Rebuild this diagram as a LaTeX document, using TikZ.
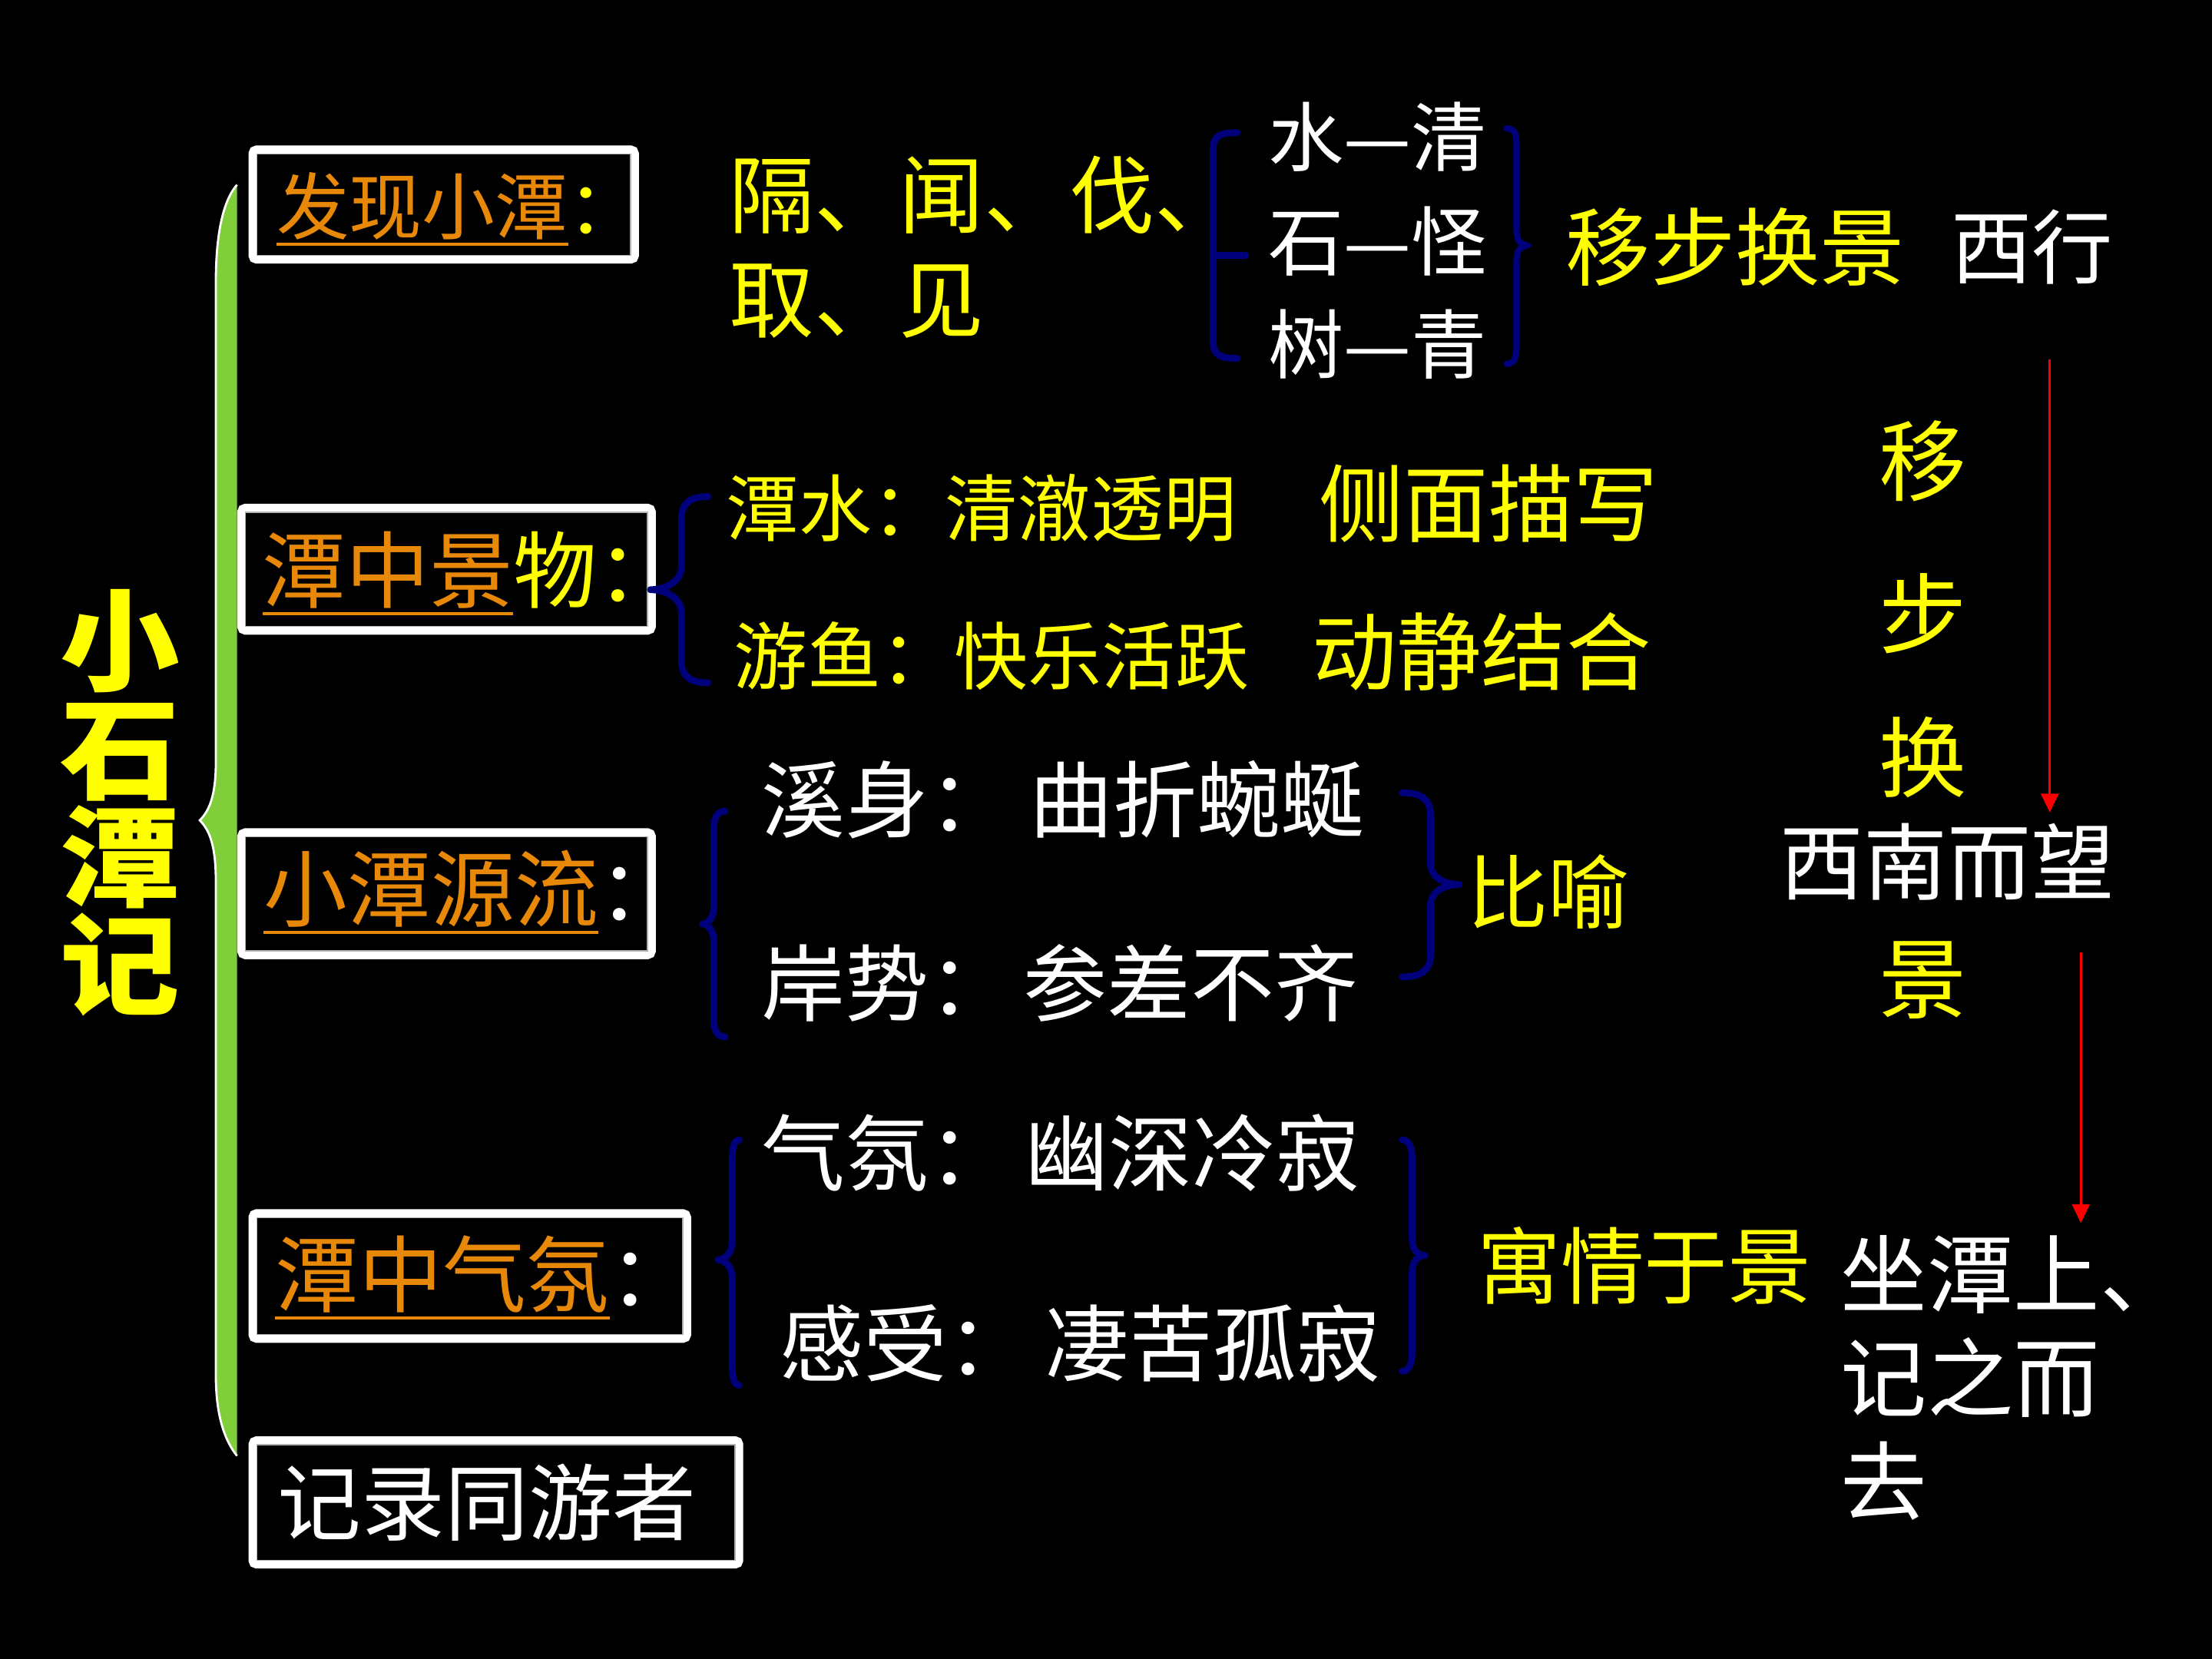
\documentclass[tikz,border=0pt]{standalone}
\usepackage{fontspec}
\usepackage{graphicx}
\setmainfont{Noto Sans CJK SC}
\usetikzlibrary{arrows.meta}
\definecolor{myyellow}{RGB}{255,255,0}
\definecolor{myorange}{RGB}{232,136,8}
\definecolor{mynavy}{RGB}{0,0,125}
\definecolor{mygreen}{RGB}{128,206,58}
\definecolor{myred}{RGB}{250,0,0}
\def\pxu{0.018367cm}
\newcommand{\fs}[1]{\fontsize{#1pt}{#1pt}\selectfont}
\tikzset{
  every node/.style={inner sep=0pt, outer sep=0pt},
  box/.style={draw=white, line width=3pt, rounded corners=1.5pt, fill=black},
  innerline/.style={draw=gray!60, line width=0.4pt},
  ytext/.style={text=myyellow},
  wtext/.style={text=white},
  otext/.style={text=myorange},
  uline/.style={draw=myorange, line width=1.2pt},
  navybrace/.style={draw=mynavy, line width=2.5pt, line cap=round, line join=round},
  redarrow/.style={draw=myred, line width=0.9pt, -{Triangle[width=6.5pt,length=7pt]}},
}
\begin{document}
\begin{tikzpicture}[x=\pxu, y=-\pxu]
\fill[black] (0,0) rectangle (1568,1176);
\useasboundingbox (0,0) rectangle (1568,1176);

% title
\node[ytext, font=\fontsize{41pt}{40pt}\selectfont\bfseries, align=center] (title) at (85,569) {\scalebox{1.08}[1]{小}\\\scalebox{1.08}[1]{石}\\\scalebox{1.08}[1]{潭}\\\scalebox{1.08}[1]{记}};

% green brace
\fill[mygreen] (168,131) .. controls (160,140) and (153,160) .. (153,200) -- (153,540)
  .. controls (153,565) and (148,575) .. (141.6,581.5)
  .. controls (148,588) and (153,598) .. (153,625) -- (153,975)
  .. controls (153,1005) and (160,1022) .. (168,1032) -- cycle;
\draw[white, line width=0.8pt] (168,131) .. controls (160,140) and (153,160) .. (153,200) -- (153,540)
  .. controls (153,565) and (148,575) .. (141.6,581.5)
  .. controls (148,588) and (153,598) .. (153,625) -- (153,975)
  .. controls (153,1005) and (160,1022) .. (168,1032);

% boxes
\node[box, minimum width={271*\pxu}, minimum height={78*\pxu}] (b1) at (314.5,145) {};
\node[box, minimum width={291*\pxu}, minimum height={87*\pxu}] (b2) at (316.5,403.5) {};
\node[box, minimum width={291*\pxu}, minimum height={87*\pxu}] (b3) at (316.5,633.5) {};
\node[box, minimum width={308*\pxu}, minimum height={89*\pxu}] (b4) at (333,904.5) {};
\node[box, minimum width={345*\pxu}, minimum height={88*\pxu}] (b5) at (351.5,1065) {};
\foreach \b in {b1,b2,b3,b4,b5}
  \draw[innerline] ([shift={(1.6pt,-1.6pt)}]\b.north west) rectangle ([shift={(-1.6pt,1.6pt)}]\b.south east);

% box texts
\node[otext, anchor=west, font=\fs{27}] (t1) at (196,146) {发现小潭};
\node[ytext, anchor=base west, font=\fs{27}] (t1c) at (t1.base east) {：};
\draw[uline] ([yshift=-4pt]t1.base west) -- ([yshift=-4pt]t1.base east);

\node[otext, anchor=west, font=\fs{31}] (t2) at (186,404) {潭中景};
\node[ytext, anchor=base west, font=\fs{31}] (t2c) at (t2.base east) {物：};
\draw[uline] ([yshift=-4.5pt]t2.base west) -- ([yshift=-4.5pt]t2.base east);

\node[otext, anchor=west, font=\fs{31}] (t3) at (187,630) {小潭源流};
\node[wtext, anchor=base west, font=\fs{31}] (t3c) at (t3.base east) {：};
\draw[uline] ([yshift=-4.5pt]t3.base west) -- ([yshift=-4.5pt]t3.base east);

\node[otext, anchor=west, font=\fs{31}] (t4) at (195,903) {潭中气氛};
\node[wtext, anchor=base west, font=\fs{31}] (t4c) at (t4.base east) {：};
\draw[uline] ([yshift=-4.5pt]t4.base west) -- ([yshift=-4.5pt]t4.base east);

\node[wtext, anchor=west, font=\fs{31}] (t5) at (197,1065) {记录同游者};

% discovery
\node[ytext, anchor=west, align=left, font=\fontsize{31.5pt}{38.7pt}\selectfont] (ge) at (517,175) {隔、闻、伐、\\取、见};
\draw[navybrace] (877,94) .. controls (865,94) and (860,96) .. (860,106) -- (860,242) .. controls (860,252) and (865,254) .. (877,254);
\draw[navybrace] (860,181) -- (883,181);
\node[wtext, anchor=west, font=\fs{28}] (sq) at (899,97) {水—清};
\node[wtext, anchor=west, font=\fs{28}] (sg) at (899,171) {石—怪};
\node[wtext, anchor=west, font=\fs{28}] (sh) at (899,244) {树—青};
\draw[navybrace, line width=2.3pt] (1068,91) .. controls (1073,91) and (1075,94) .. (1075,102) -- (1075,164)
  .. controls (1075,170) and (1078,174) .. (1083,174) .. controls (1078,174) and (1075,178) .. (1075,184)
  -- (1075,246) .. controls (1075,254) and (1073,258) .. (1068,258);
\node[ytext, anchor=west, font=\fs{31.4}] (ybhj) at (1110,175) {移步换景};
\node[wtext, anchor=west, font=\fs{30}] (xx) at (1383,175) {西行};

% right column
\node[ytext, font=\fs{32.5}] (v1) at (1363,327) {移};
\node[ytext, font=\fs{32.5}] (v2) at (1363,435) {步};
\node[ytext, font=\fs{32.5}] (v3) at (1363,537) {换};
\node[wtext, anchor=west, font=\fs{31}] (xn) at (1262,611) {西南而望};
\node[ytext, font=\fs{32.5}] (v4) at (1363,695) {景};
\node[wtext, anchor=west, align=left, font=\fontsize{32pt}{38.4pt}\selectfont] (zt) at (1305,976.5) {坐潭上、\\记之而\\去};
\coordinate (a1s) at (1453,255);
\coordinate (a1e) at (1453,576);
\coordinate (a2s) at (1475,675);
\coordinate (a2e) at (1475,867);
\draw[redarrow] (a1s) -- (a1e);
\draw[redarrow] (a2s) -- (a2e);

% scenery
\draw[navybrace] (502,352) .. controls (490,352) and (483,356) .. (483,368) -- (483,402)
  .. controls (483,412) and (472,418) .. (461,418) .. controls (472,418) and (483,424) .. (483,434)
  -- (483,468) .. controls (483,480) and (490,484) .. (502,484);
\node[ytext, anchor=west, font=\fs{27}] (ts) at (515,360) {潭水：清澈透明};
\node[ytext, anchor=west, font=\fs{31.4}] (cm) at (935,357) {侧面描写};
\node[ytext, anchor=west, font=\fs{27.3}] (yy) at (520,465) {游鱼：快乐活跃};
\node[ytext, anchor=west, font=\fs{31.4}] (dj) at (930,462) {动静结合};

% source
\draw[navybrace] (514,575) .. controls (509,575) and (506,579) .. (506,587) -- (506,643)
  .. controls (506,650) and (502,655) .. (498,655) .. controls (502,655) and (506,660) .. (506,667)
  -- (506,723) .. controls (506,731) and (509,735) .. (514,735);
\node[wtext, anchor=west, font=\fs{31}] (xs) at (540,567) {溪身：\hspace{6.3pt}曲折蜿蜒};
\node[wtext, anchor=west, font=\fs{31}] (as) at (540,697) {岸势：\hspace{4pt}参差不齐};
\draw[navybrace] (994,562) .. controls (1007,562) and (1014,566) .. (1014,578) -- (1014,612)
  .. controls (1014,622) and (1024,627) .. (1034.5,627) .. controls (1024,627) and (1014,632) .. (1014,642)
  -- (1014,677) .. controls (1014,688) and (1007,692.5) .. (994,692.5);
\node[ytext, anchor=west, font=\fs{30}] (by) at (1040,632) {比喻};

% atmosphere
\draw[navybrace] (524,808) .. controls (521,808) and (519,812) .. (519,822) -- (519,880)
  .. controls (519,888) and (514,893) .. (509,893) .. controls (514,893) and (519,898) .. (519,906)
  -- (519,968) .. controls (519,978) and (521,982) .. (524,982);
\node[wtext, anchor=west, font=\fs{31}] (qf) at (540,817) {气氛：\hspace{4.5pt}幽深冷寂};
\node[wtext, anchor=west, font=\fs{31}] (gs) at (553,952) {感受：\hspace{5.5pt}凄苦孤寂};
\draw[navybrace] (994,808) .. controls (998,808) and (1001,812) .. (1001,822) -- (1001,878)
  .. controls (1001,886) and (1005,890) .. (1010,890) .. controls (1005,890) and (1001,894) .. (1001,902)
  -- (1001,958) .. controls (1001,968) and (998,972) .. (994,972);
\node[ytext, anchor=west, font=\fs{31}] (yq) at (1047,897) {寓情于景};
\end{tikzpicture}
\end{document}
